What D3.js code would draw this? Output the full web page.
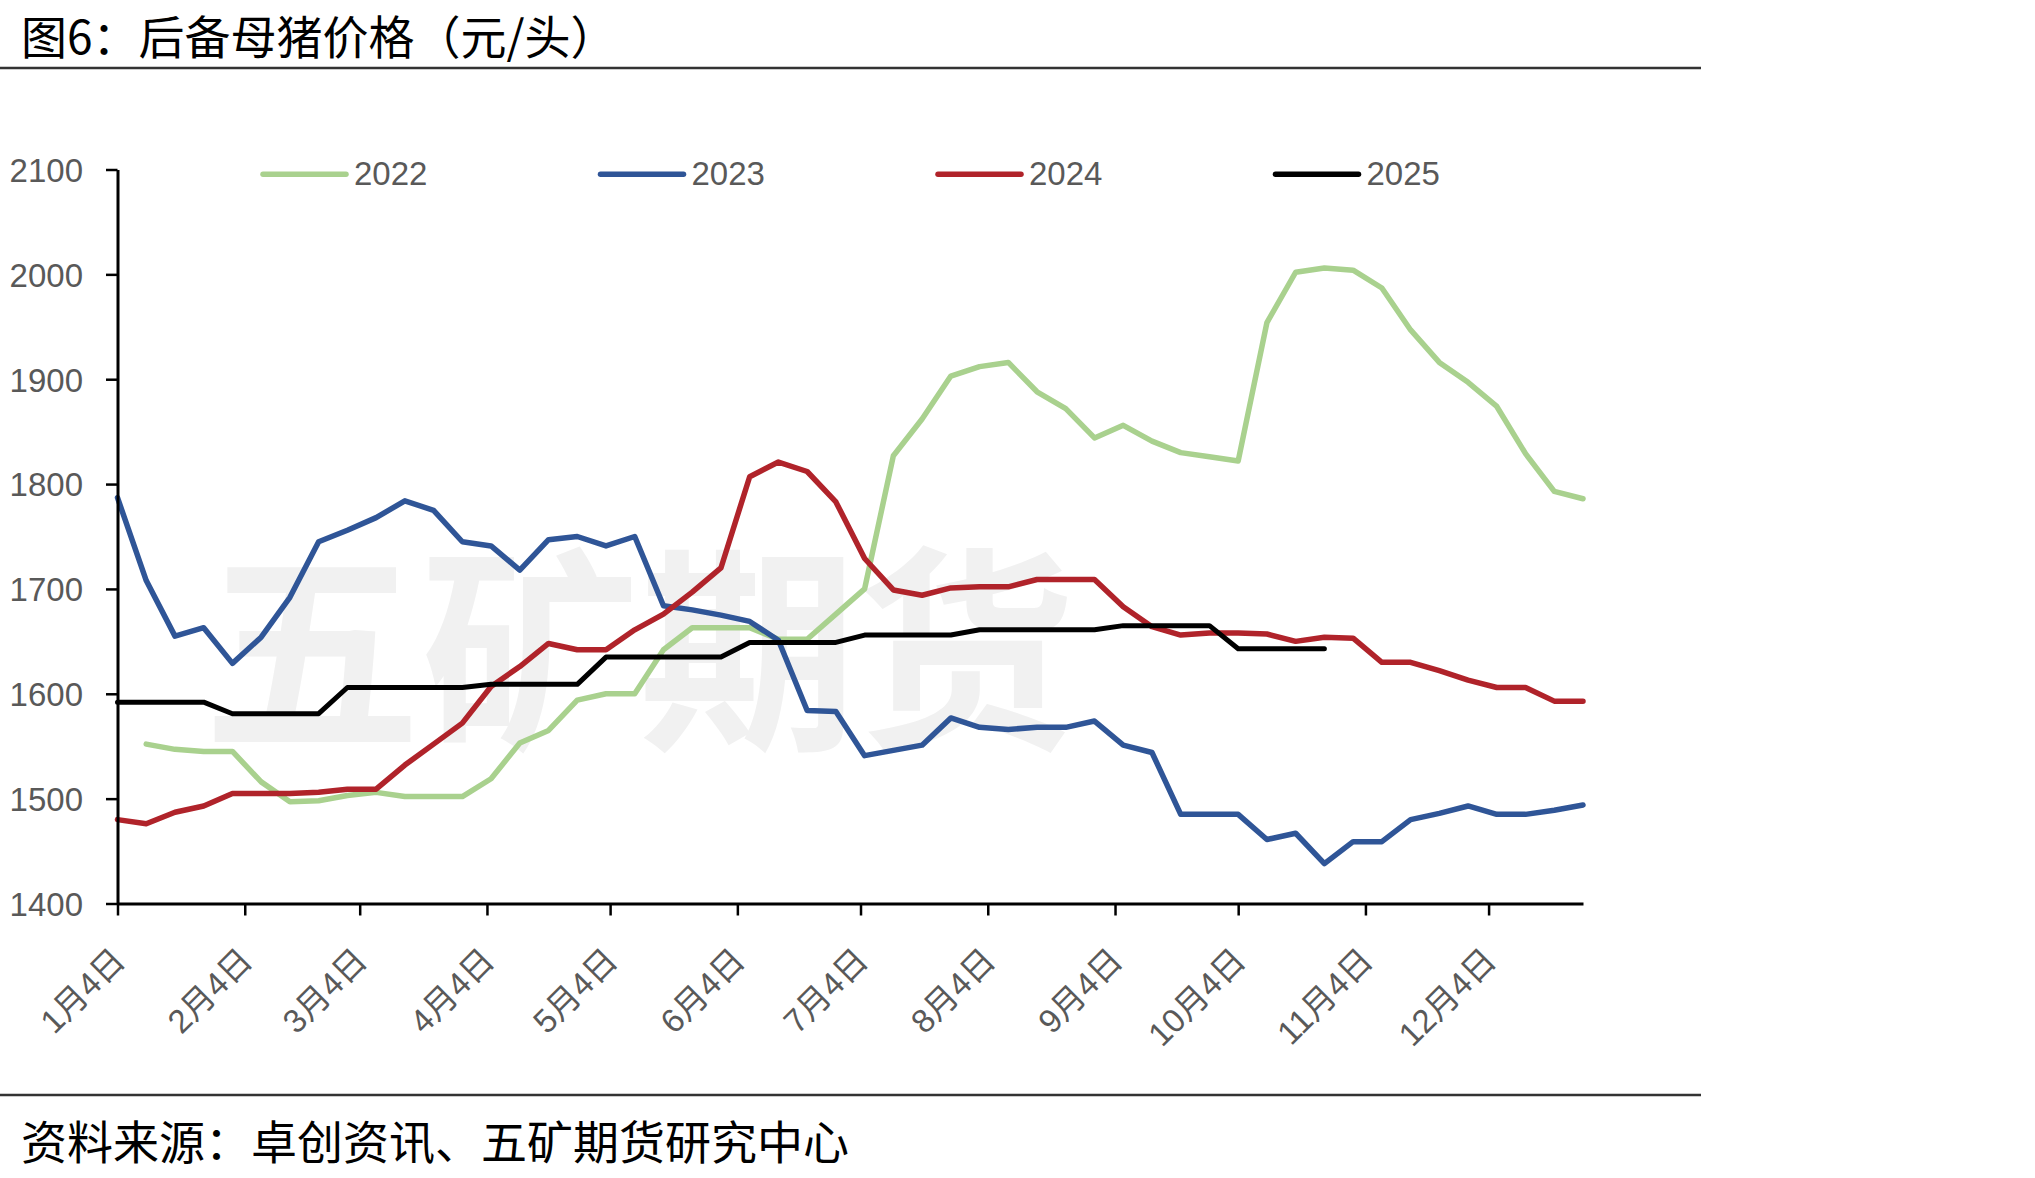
<!DOCTYPE html>
<html>
<head>
<meta charset="utf-8">
<script src="https://cdn.jsdelivr.net/npm/d3@7"></script>
<style>
    body { margin: 0; background: #fff; }
    svg { display: block; }
    .tick text, .legend-text {
        font-family: "Liberation Sans", "Noto Sans CJK SC", sans-serif;
        font-size: 33px;
        fill: #595959;
    }
    .chart-title, .chart-source {
        font-family: "Noto Sans CJK SC", sans-serif;
        font-size: 46px;
        fill: #000;
    }
</style>
</head>
<body>
<div id="chart"></div>
<script>
// weekly sample dates (month/day)
var weekDates = ["1/4", "1/11", "1/18", "1/25", "2/1", "2/8", "2/15", "2/22", "3/1", "3/8",
    "3/15", "3/22", "3/29", "4/5", "4/12", "4/19", "4/26", "5/3", "5/10", "5/17",
    "5/24", "5/31", "6/7", "6/14", "6/21", "6/28", "7/5", "7/12", "7/19", "7/26",
    "8/2", "8/9", "8/16", "8/23", "8/30", "9/6", "9/13", "9/20", "9/27", "10/4",
    "10/11", "10/18", "10/25", "11/1", "11/8", "11/15", "11/22", "11/29", "12/6", "12/13",
    "12/20", "12/27"];

var tickDates = ["1/4", "2/4", "3/4", "4/4", "5/4", "6/4", "7/4", "8/4", "9/4", "10/4", "11/4", "12/4"];
var tickLabels = ["1月4日", "2月4日", "3月4日", "4月4日", "5月4日", "6月4日", "7月4日", "8月4日", "9月4日", "10月4日", "11月4日", "12月4日"];
var yTicks = [1400, 1500, 1600, 1700, 1800, 1900, 2000, 2100];

var years = ["2022", "2023", "2024", "2025"];

var price2022 = [null, 1552, 1547, 1545, 1545, 1516, 1497, 1498, 1503, 1506,
    1502, 1502, 1502, 1519, 1553, 1565, 1594, 1600, 1600, 1642,
    1663, 1663, 1663, 1652, 1652, 1676, 1700, 1827, 1862, 1903,
    1912, 1916, 1888, 1872, 1844, 1856, 1841, 1830, 1826, 1822,
    1954, 2002, 2006, 2004, 1987, 1947, 1916, 1897, 1874, 1829,
    1793, 1786];

var price2023 = [1787, 1708, 1655, 1663, 1629, 1654, 1692, 1745, 1756, 1768,
    1784, 1775, 1745, 1741, 1718, 1747, 1750, 1741, 1750, 1684,
    1680, 1675, 1669, 1651, 1584, 1583, 1541, 1546, 1551, 1577,
    1568, 1566, 1568, 1568, 1574, 1551, 1544, 1485, 1485, 1485,
    1461, 1467, 1438, 1459, 1459, 1480, 1486, 1493, 1485, 1485,
    1489, 1494];

var price2024 = [1480, 1476, 1487, 1493, 1505, 1505, 1505, 1506, 1509, 1509,
    1532, 1552, 1572, 1607, 1626, 1648, 1642, 1642, 1661, 1676,
    1697, 1720, 1807, 1821, 1812, 1783, 1729, 1699, 1694, 1701,
    1702, 1702, 1709, 1709, 1709, 1683, 1664, 1656, 1658, 1658,
    1657, 1650, 1654, 1653, 1630, 1630, 1622, 1613, 1606, 1606,
    1593, 1593];

var price2025 = [1592, 1592, 1592, 1592, 1581, 1581, 1581, 1581, 1606, 1606,
    1606, 1606, 1606, 1609, 1609, 1609, 1609, 1635, 1635, 1635,
    1635, 1635, 1649, 1649, 1649, 1649, 1656, 1656, 1656, 1656,
    1661, 1661, 1661, 1661, 1661, 1665, 1665, 1665, 1665, 1643,
    1643, 1643, 1643];

var colors = {
    "2022": "#A9D18E",
    "2023": "#2F5597",
    "2024": "#B0232A",
    "2025": "#000000"
};

var seriesValues = {
    "2022": price2022,
    "2023": price2023,
    "2024": price2024,
    "2025": price2025
};

var W = 2035, H = 1178;
var parseDay = d3.timeParse("%Y/%m/%d");
function toDate(s) {
    return parseDay("2025/" + s);
}

var svg = d3.select("#chart").append("svg")
    .attr("width", W)
    .attr("height", H);

var x = d3.scaleTime()
    .domain([toDate(weekDates[0]), toDate(weekDates[weekDates.length - 1])])
    .range([117.5, 1583]);

var y = d3.scaleLinear()
    .domain([1400, 2100])
    .range([903.5, 169.5]);

// title + rules
svg.append("text")
    .attr("class", "chart-title")
    .attr("x", 21)
    .attr("y", 54)
    .text("图6：后备母猪价格（元/头）");

svg.append("line")
    .attr("x1", 0).attr("x2", 1701)
    .attr("y1", 68).attr("y2", 68)
    .attr("stroke", "#333").attr("stroke-width", 2.5);

svg.append("line")
    .attr("x1", 0).attr("x2", 1701)
    .attr("y1", 1095).attr("y2", 1095)
    .attr("stroke", "#333").attr("stroke-width", 2.5);

svg.append("text")
    .attr("class", "chart-source")
    .attr("x", 21)
    .attr("y", 1159)
    .text("资料来源：卓创资讯、五矿期货研究中心");

// watermark
svg.append("text")
    .attr("x", 203)
    .attr("y", 733)
    .attr("font-family", "Noto Sans CJK SC")
    .attr("font-weight", "bold")
    .attr("font-size", 218)
    .attr("fill", "#F1F1F1")
    .text("五矿期货");

// lines
var line = d3.line()
    .defined(function (d) { return d.v != null; })
    .x(function (d) { return x(d.date); })
    .y(function (d) { return y(d.v); });

years.forEach(function (yr) {
    var pts = seriesValues[yr].map(function (v, i) {
        return { date: toDate(weekDates[i]), v: v };
    });
    svg.append("path")
        .datum(pts)
        .attr("fill", "none")
        .attr("stroke", colors[yr])
        .attr("stroke-width", yr == "2025" ? 5 : 5.5)
        .attr("stroke-linejoin", "round")
        .attr("stroke-linecap", "round")
        .attr("d", line);
});

// axes
var yAxis = d3.axisLeft(y)
    .tickValues(yTicks)
    .tickFormat(d3.format("d"))
    .tickSize(11.5)
    .tickSizeOuter(0)
    .tickPadding(23);

var gY = svg.append("g")
    .attr("transform", "translate(117.5,0)")
    .call(yAxis);
gY.selectAll("text").attr("dy", "0.36em");

var xAxis = d3.axisBottom(x)
    .tickValues(tickDates.map(toDate))
    .tickSize(12)
    .tickSizeOuter(0)
    .tickFormat(function (d, i) { return tickLabels[i]; });

var gX = svg.append("g")
    .attr("transform", "translate(0,903.5)")
    .call(xAxis);
gX.selectAll("text")
    .attr("x", 9)
    .attr("y", 59)
    .attr("dy", 0)
    .attr("text-anchor", "end")
    .attr("transform", "rotate(-45,9,59)");

svg.selectAll(".domain").attr("stroke", "#000").attr("stroke-width", 3);
svg.selectAll(".tick line").attr("stroke", "#000").attr("stroke-width", 2.5);

// legend
var legend = svg.append("g").attr("class", "legend");
years.forEach(function (yr, i) {
    var lx = 263 + i * 337.5;
    legend.append("line")
        .attr("x1", lx).attr("x2", lx + 83)
        .attr("y1", 174.3).attr("y2", 174.3)
        .attr("stroke", colors[yr])
        .attr("stroke-width", 5.5)
        .attr("stroke-linecap", "round");
    legend.append("text")
        .attr("class", "legend-text")
        .attr("x", lx + 91)
        .attr("y", 184.5)
        .text(yr);
});
</script>
</body>
</html>
